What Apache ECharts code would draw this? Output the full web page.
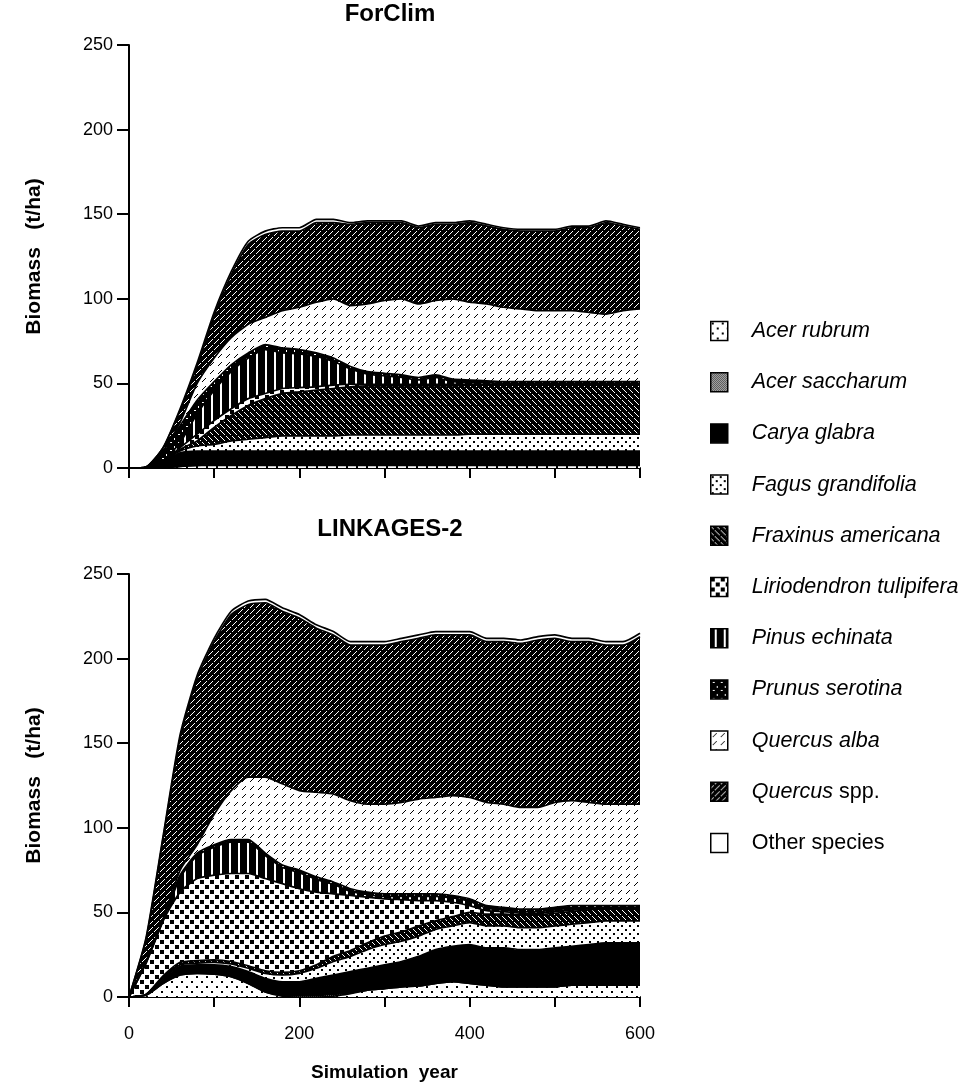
<!DOCTYPE html>
<html>
<head>
<meta charset="utf-8">
<script src="https://cdn.jsdelivr.net/npm/echarts@6/dist/echarts.min.js"></script>
<style>
  html, body { margin: 0; padding: 0; background: #fff; }
  #chart { width: 964px; height: 1086px; }
</style>
</head>
<body>
<div id="chart"></div>
<script>
// simulation years (x) shared by both panels
const years = [0, 20, 40, 60, 80, 100, 120, 140, 160, 180, 200, 220, 240, 260, 280, 300,
  320, 340, 360, 380, 400, 420, 440, 460, 480, 500, 520, 540, 560, 580, 600];

const species = ['Acer rubrum', 'Acer saccharum', 'Carya glabra', 'Fagus grandifolia',
  'Fraxinus americana', 'Liriodendron tulipifera', 'Pinus echinata', 'Prunus serotina',
  'Quercus alba', 'Quercus spp.', 'Other species'];

// ForClim biomass (t/ha) per species
const fcAcerRubrum = [0, 0, 0, 1, 1.5, 1.5, 1.5, 1.5, 1.5, 1.5, 1.5, 1.5, 1.5, 1.5, 1.5, 1.5, 1.5, 1.5, 1.5, 1.5, 1.5, 1.5, 1.5, 1.5, 1.5, 1.5, 1.5, 1.5, 1.5, 1.5, 1.5];
const fcAcerSaccharum = [0, 0, 0, 0, 0, 0.5, 0.5, 0.5, 0.5, 0.5, 0.5, 0.5, 0.5, 0.5, 0.5, 0.5, 0.5, 0.5, 0.5, 0.5, 0.5, 0.5, 0.5, 0.5, 0.5, 0.5, 0.5, 0.5, 0.5, 0.5, 0.5];
const fcCarya = [0, 0.3, 4, 8, 8.5, 8, 8, 8, 8, 8, 8, 8, 8, 8, 8, 8, 8, 8, 8, 8, 8, 8, 8, 8, 8, 8, 8, 8, 8, 8, 8];
const fcFagus = [0, 0, 0, 1, 3, 4, 6, 7, 8, 9, 9, 9, 9, 9.5, 9.5, 9.5, 9.5, 9.5, 9.5, 9.5, 10, 10, 10, 10, 10, 10, 10, 10, 10, 10, 10];
const fcFraxinus = [0, 0, 0, 1, 3, 10, 15, 20, 23, 25, 26, 27, 28, 28.5, 29, 29, 29, 29, 29, 29, 29, 29, 29, 29, 29, 29, 29, 29, 29, 29, 29];
const fcLiriodendron = [0, 0, 0, 1, 4, 4, 4, 4, 3, 3, 2.5, 2, 2, 1.5, 1, 1, 1, 1, 1, 1, 0.5, 0.5, 0.5, 0.5, 0.5, 0.5, 0.5, 0.5, 0.5, 0.5, 0.5];
const fcPinus = [0, 0, 0, 3, 12, 18, 22, 24, 26, 21, 20, 18, 14, 9, 6, 5, 4, 2.5, 4, 1.5, 1, 1, 0.5, 0.5, 0.5, 0.5, 0.5, 0.5, 0.5, 0.5, 0.5];
const fcPrunus = [0, 0.3, 6, 10, 8, 5, 4, 3, 3, 3, 2.5, 2, 2, 1.5, 1.5, 1.5, 1.5, 1.5, 1.5, 1.5, 1.5, 1, 1, 1, 1, 1, 1, 1, 1, 1, 1];
const fcQuercusAlba = [0, 0, 0, 2, 10, 14, 16, 17, 16, 22, 25, 30, 35, 36, 40, 43, 45, 43.5, 44, 47.5, 46, 45.5, 44, 43, 42, 42, 42, 41, 40, 42, 43];
const fcQuercusSpp = [0, 0, 2, 7, 10, 25, 37, 47, 49, 47, 45, 47, 45, 48, 48, 46, 45, 45, 45, 44, 47, 46, 46, 46, 47, 47, 49, 50, 54, 50, 47];
const fcOther = [0, 0, 0, 1, 2, 2, 2, 2, 2, 2, 2, 2, 2, 1, 1, 1, 1, 1, 1, 1, 1, 1, 1, 1, 1, 1, 1, 1, 1, 1, 1];

// LINKAGES-2 biomass (t/ha) per species
const lkAcerRubrum = [0, 1, 8, 13, 14, 13.5, 12, 8, 3, 0.5, 0, 0, 0.5, 2, 4, 5, 6, 6.5, 8, 9, 8, 7, 6, 6, 6, 6, 7, 7, 7, 7, 7];
const lkAcerSaccharum = [0, 0, 0, 0, 0, 0, 0, 0, 0, 0.5, 1, 1, 1, 0.5, 0, 0, 0, 0, 0, 0, 0, 0, 0, 0, 0, 0, 0, 0, 0, 0, 0];
const lkCarya = [0, 0.5, 3, 5, 5, 5.5, 6, 7, 8, 8, 8, 10, 11.5, 12.5, 13, 14, 15, 17.5, 20, 21, 23, 22, 23, 22, 22, 23, 23, 24, 25, 25, 25];
const lkFagus = [0, 0, 0.5, 1, 1, 1.5, 1.5, 2, 3, 4, 5, 6, 8, 9, 11, 12, 12, 12, 12, 12, 13, 13, 13, 13, 13, 13, 13, 13, 13, 13, 13];
const lkFraxinus = [0, 0, 1, 1.5, 1.5, 1.5, 1.5, 1.5, 1.5, 1.5, 1.5, 2, 3, 3.5, 4, 5, 5.5, 6, 5, 5.5, 6, 7, 7, 7.5, 7.5, 7.5, 7.5, 7.5, 7, 7, 7];
const lkLiriodendron = [0, 18.5, 32.5, 41.5, 48.5, 50, 52, 54.5, 54.5, 52.5, 48.5, 43, 37, 32.5, 27, 22, 19, 15, 12, 8.5, 4, 2, 1.5, 1, 1, 1, 1, 0.5, 0.5, 0.5, 0.5];
const lkPinus = [0, 0, 0, 8.5, 13.5, 16.5, 18.5, 18.5, 13.5, 9.5, 9.5, 7.5, 5.5, 2.5, 1.5, 1.5, 2, 2.5, 2.5, 2.5, 2.5, 1.5, 1, 1, 1, 1, 1, 0.5, 0.5, 0.5, 0.5];
const lkPrunus = [0, 1, 1, 1.5, 1.5, 1.5, 1.5, 1.5, 1.5, 1.5, 1.5, 1.5, 1.5, 1.5, 1.5, 1.5, 1.5, 1.5, 1.5, 1.5, 1.5, 1.5, 1.5, 1.5, 1.5, 1.5, 1.5, 1.5, 1, 1, 1];
const lkQuercusAlba = [0, 0, 0, 3, 5, 18, 29, 37, 45, 48, 47, 50, 52, 52, 52, 53, 54, 56, 57, 59, 60, 61, 61, 60, 60, 62, 62, 61, 60, 60, 60];
const lkQuercusSpp = [0, 13, 47.5, 78, 98, 102, 104, 102, 103, 102, 102, 97, 94, 92, 94, 94, 95, 95, 96, 95, 96, 95, 96, 97, 99, 97, 94, 95, 94, 94, 99];
const lkOther = [0, 1, 1.5, 2, 2, 2, 2, 2, 2, 2, 2, 2, 2, 2, 2, 2, 2, 2, 2, 2, 2, 2, 2, 2, 2, 2, 2, 2, 2, 2, 2];

const forclim = [fcAcerRubrum, fcAcerSaccharum, fcCarya, fcFagus, fcFraxinus, fcLiriodendron,
  fcPinus, fcPrunus, fcQuercusAlba, fcQuercusSpp, fcOther];
const linkages = [lkAcerRubrum, lkAcerSaccharum, lkCarya, lkFagus, lkFraxinus, lkLiriodendron,
  lkPinus, lkPrunus, lkQuercusAlba, lkQuercusSpp, lkOther];

// black & white fill patterns
function tile(w, h, draw) {
  const c = document.createElement('canvas');
  c.width = w; c.height = h;
  draw(c.getContext('2d'), w, h);
  return { image: c, repeat: 'repeat' };
}
function bg(g, col, w, h) { g.fillStyle = col; g.fillRect(0, 0, w, h); }

const patterns = [
  // Acer rubrum: sparse dots on white
  tile(10, 10, (g, w, h) => { bg(g, '#fff', w, h); g.fillStyle = '#000'; g.fillRect(1, 1, 2, 2); g.fillRect(6, 6, 2, 2); }),
  // Acer saccharum: fine grey stipple
  tile(2, 2, (g, w, h) => { bg(g, '#fff', w, h); g.fillStyle = '#000'; g.fillRect(0, 0, 1, 1); g.fillRect(1, 1, 1, 1); }),
  // Carya glabra: solid black
  '#000',
  // Fagus grandifolia: dots on white
  tile(8, 8, (g, w, h) => { bg(g, '#fff', w, h); g.fillStyle = '#000'; g.fillRect(1, 1, 2, 2); g.fillRect(5, 5, 2, 2); }),
  // Fraxinus americana: white "\" lines on black
  tile(6, 6, (g, w, h) => { bg(g, '#000', w, h); g.fillStyle = '#fff'; for (let k = 0; k < 6; k++) if (k !== 3) g.fillRect(k, k, 1, 1); }),
  // Liriodendron tulipifera: black squares on white
  tile(10, 10, (g, w, h) => { bg(g, '#fff', w, h); g.fillStyle = '#000'; g.fillRect(0, 0, 4, 4); g.fillRect(5, 5, 4, 4); }),
  // Pinus echinata: white vertical bars on black
  tile(9, 9, (g, w, h) => { bg(g, '#000', w, h); g.fillStyle = '#fff'; g.fillRect(4, 0, 2, h); }),
  // Prunus serotina: white specks on black
  tile(8, 8, (g, w, h) => { bg(g, '#000', w, h); g.fillStyle = '#fff'; g.fillRect(2, 2, 2, 1); g.fillRect(6, 6, 1, 2); }),
  // Quercus alba: black "/" dashes on white
  tile(8, 8, (g, w, h) => { bg(g, '#fff', w, h); g.fillStyle = '#000'; g.fillRect(5, 2, 1, 1); g.fillRect(4, 3, 1, 1); g.fillRect(3, 4, 1, 1); g.fillRect(2, 5, 1, 1); }),
  // Quercus spp.: white "/" lines on black
  tile(6, 6, (g, w, h) => { bg(g, '#000', w, h); g.fillStyle = '#fff'; for (let k = 0; k < 6; k++) if (k !== 2) g.fillRect(5 - k, k, 1, 1); }),
  // Other species: white
  '#fff'
];

const font = '"Liberation Sans", Arial, Helvetica, sans-serif';

function makeSeries(values, idx, stack) {
  return values.map((vals, s) => ({
    name: species[s],
    type: 'line',
    stack: stack,
    xAxisIndex: idx,
    yAxisIndex: idx,
    data: vals,
    showSymbol: false,
    symbol: 'none',
    smooth: 0.2,
    lineStyle: { color: '#000', width: 1.7 },
    itemStyle: { color: patterns[s] },
    areaStyle: { color: patterns[s], opacity: 1 },
    emphasis: { disabled: true },
    silent: true
  }));
}

// category axis over the 20-year steps; ticks every 100 yr, labels every 200 yr
function xAxis(idx, showLabels) {
  return {
    type: 'category', gridIndex: idx, data: years.map(String), boundaryGap: false,
    axisLine: { show: true, lineStyle: { color: '#000', width: 2 } },
    axisTick: { show: true, inside: false, length: 10, interval: 4, lineStyle: { color: '#000', width: 2 } },
    splitLine: { show: false },
    axisLabel: { show: showLabels, interval: 9, margin: 28, color: '#000', fontSize: 18, fontFamily: font },
    name: showLabels ? 'Simulation  year' : '',
    nameLocation: 'middle', nameGap: 66,
    nameTextStyle: { color: '#000', fontSize: 19, fontWeight: 'bold', fontFamily: font }
  };
}

function yAxis(idx) {
  return {
    type: 'value', gridIndex: idx, min: 0, max: 250, interval: 50,
    axisLine: { show: true, lineStyle: { color: '#000', width: 2 } },
    axisTick: { show: true, inside: false, length: 12, lineStyle: { color: '#000', width: 2 } },
    splitLine: { show: false },
    axisLabel: { margin: 16, color: '#000', fontSize: 18, fontFamily: font },
    name: 'Biomass   (t/ha)', nameLocation: 'middle', nameGap: 84,
    nameTextStyle: { color: '#000', fontSize: 21, fontWeight: 'bold', fontFamily: font }
  };
}

function legendLabel(name) {
  if (name === 'Other species') return '{n|Other species}';
  if (name === 'Quercus spp.') return '{i|Quercus} {n|spp.}';
  return '{i|' + name + '}';
}

const chart = echarts.init(document.getElementById('chart'), null, { renderer: 'canvas' });
chart.setOption({
  animation: false,
  backgroundColor: '#fff',
  title: [
    { text: 'ForClim', left: 385, top: -3, textAlign: 'center',
      textStyle: { fontSize: 24, fontWeight: 'bold', color: '#000', fontFamily: font } },
    { text: 'LINKAGES-2', left: 385, top: 512, textAlign: 'center',
      textStyle: { fontSize: 24, fontWeight: 'bold', color: '#000', fontFamily: font } }
  ],
  grid: [
    { left: 129, top: 45, width: 511, height: 423 },
    { left: 129, top: 574, width: 511, height: 423 }
  ],
  xAxis: [xAxis(0, false), xAxis(1, true)],
  yAxis: [yAxis(0), yAxis(1)],
  legend: {
    orient: 'vertical', left: 705, top: 315,
    itemWidth: 17, itemHeight: 19, itemGap: 29.2,
    icon: 'rect', selectedMode: false,
    data: species.map((n, s) => ({ name: n, itemStyle: { color: patterns[s], borderColor: '#000', borderWidth: 1.5 } })),
    formatter: legendLabel,
    textStyle: {
      color: '#000', fontSize: 21.5, fontFamily: font, padding: [0, 0, 0, 19],
      rich: {
        i: { fontStyle: 'italic', fontSize: 21.5, fontFamily: font, color: '#000' },
        n: { fontSize: 21.5, fontFamily: font, color: '#000' }
      }
    }
  },
  series: makeSeries(forclim, 0, 'forclim').concat(makeSeries(linkages, 1, 'linkages'))
});
</script>
</body>
</html>
